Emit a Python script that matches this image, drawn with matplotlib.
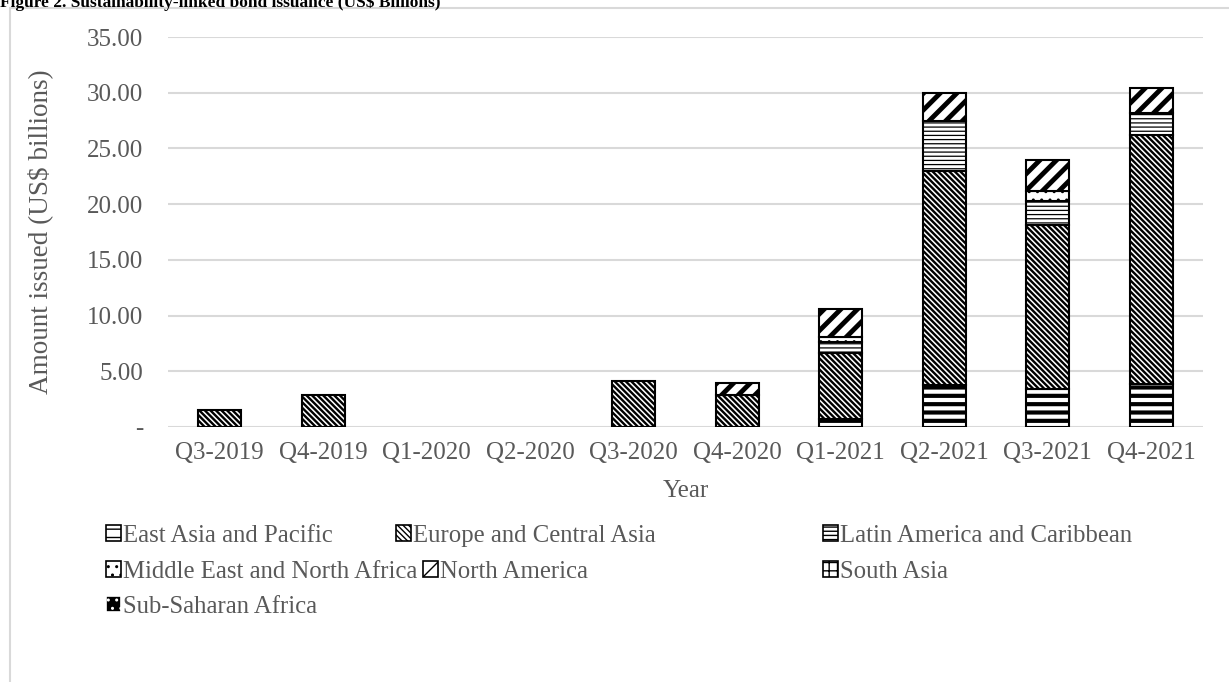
import numpy as np
import matplotlib.pyplot as plt
import matplotlib.patches as mpatches
from matplotlib.ticker import FuncFormatter

plt.rcParams['font.family'] = ['Liberation Serif', 'DejaVu Serif']

quarters = ['Q3-2019', 'Q4-2019', 'Q1-2020', 'Q2-2020', 'Q3-2020',
            'Q4-2020', 'Q1-2021', 'Q2-2021', 'Q3-2021', 'Q4-2021']
regions = ['East Asia and Pacific', 'Europe and Central Asia', 'Latin America and Caribbean',
           'Middle East and North Africa', 'North America', 'South Asia', 'Sub-Saharan Africa']

east_asia = [0, 0, 0, 0, 0, 0, 0.70, 3.75, 3.45, 3.90]
europe = [1.55, 2.85, 0, 0, 4.15, 2.85, 5.90, 19.25, 14.65, 22.30]
latin_america = [0, 0, 0, 0, 0, 0, 1.05, 4.50, 2.20, 1.95]
middle_east = [0, 0, 0, 0, 0, 0, 0.40, 0, 0.90, 0]
north_america = [0, 0, 0, 0, 0, 1.10, 2.55, 2.50, 2.75, 2.25]
south_asia = [0] * 10
sub_saharan = [0] * 10

series = [east_asia, europe, latin_america, middle_east, north_america, south_asia, sub_saharan]

# hatch, hatch line width, face colour, edge colour for each region
styles = [
    ('--', 3.0, 'white', 'black'),
    ('\\' * 6, 1.7, 'white', 'black'),
    ('----', 0.9, 'white', 'black'),
    ('..', 1.0, 'white', 'black'),
    ('//', 3.5, 'white', 'black'),
    ('++', 1.0, 'white', 'black'),
    ('..', 1.5, 'black', 'white'),
]

# legend entry anchors (pixels), Excel-style row layout
legend_pos = [(106, 536), (396, 536), (823, 536),
              (106, 572), (423, 572), (823, 572),
              (106, 607)]

grey = '#595959'
W, H = 1229, 682
fig = plt.figure(figsize=(W / 100, H / 100), dpi=100)
ax = fig.add_axes([168 / W, 1 - 427 / H, (1203 - 168) / W, 390 / H])

x = np.arange(len(quarters))
bottom = np.zeros(len(quarters))
handles = []
for name, vals, (hatch, hlw, fc, ec) in zip(regions, series, styles):
    vals = np.array(vals, dtype=float)
    keep = vals > 0
    plt.rcParams['hatch.linewidth'] = hlw
    if keep.any():
        bars = ax.bar(x[keep], vals[keep], bottom=bottom[keep], width=0.42,
                      color=fc, edgecolor=ec, hatch=hatch, linewidth=1.5, zorder=3)
        for b in bars:
            if hasattr(b, 'set_hatch_linewidth'):
                b.set_hatch_linewidth(hlw)
    bottom += vals
    h = mpatches.Patch(facecolor=fc, edgecolor=ec, hatch=hatch, linewidth=1.2, label=name)
    if hasattr(h, 'set_hatch_linewidth'):
        h.set_hatch_linewidth(min(hlw, 2.0))
    handles.append(h)
plt.rcParams['hatch.linewidth'] = 1.0

ax.set_xlim(-0.5, len(quarters) - 0.5)
ax.set_ylim(0, 35)
ax.set_yticks(np.arange(0, 36, 5))
ax.yaxis.set_major_formatter(FuncFormatter(lambda v, p: '-' if v == 0 else f'{v:.2f}'))
ax.set_xticks(x)
ax.set_xticklabels(quarters)
ax.grid(axis='y', color='#d9d9d9', linewidth=1.5, zorder=0)
ax.set_axisbelow(True)
for s in ax.spines.values():
    s.set_visible(False)
ax.tick_params(length=0, labelsize=18, labelcolor=grey)
ax.tick_params(axis='y', pad=18)
ax.tick_params(axis='x', pad=11)

ax.set_xlabel('Year', fontsize=18, color=grey)
ax.xaxis.set_label_coords(0.5, -0.136)
ax.set_ylabel('Amount issued (US$ billions)', fontsize=19.5, color=grey)
ax.yaxis.set_label_coords(-0.111, 0.5)

for h, (px, py) in zip(handles, legend_pos):
    leg = fig.legend(handles=[h], loc='center left',
                     bbox_to_anchor=(px / W, 1 - py / H), frameon=False,
                     fontsize=17.8, handlelength=0.6, handleheight=0.6,
                     handletextpad=0.1, borderpad=0, borderaxespad=0)
    for t in leg.get_texts():
        t.set_color(grey)

# outer chart border
fig.patches.append(mpatches.Rectangle((10 / W, -0.1), 1.2, 1.1 - 8 / H,
                                      transform=fig.transFigure, fill=False,
                                      edgecolor='#d9d9d9', linewidth=1.5))

fig.text(0.0, 1 - 7 / H, 'Figure 2. Sustainability-linked bond issuance (US$ Billions)',
         fontsize=12.5, fontweight='bold', va='baseline', ha='left')

fig.savefig('out.png', dpi=100)
